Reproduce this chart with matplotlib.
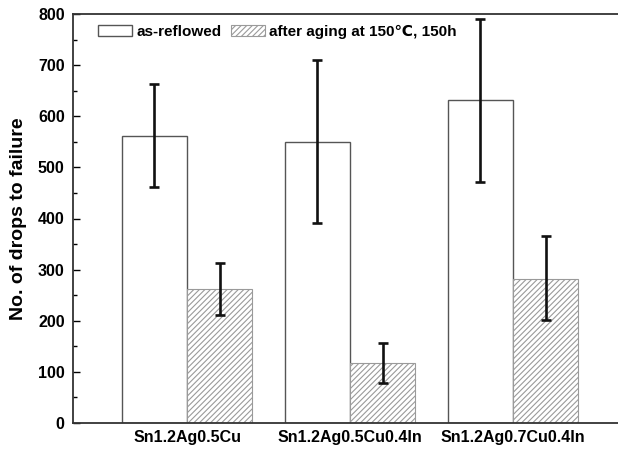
import matplotlib
matplotlib.use("Agg")
import matplotlib.pyplot as plt
import numpy as np
from matplotlib.ticker import MultipleLocator

plt.rcParams['font.family'] = ['Liberation Sans', 'DejaVu Sans']
plt.rcParams['font.weight'] = 'bold'
plt.rcParams['hatch.color'] = '#a0a0a0'
plt.rcParams['hatch.linewidth'] = 0.8

alloys = ["Sn1.2Ag0.5Cu", "Sn1.2Ag0.5Cu0.4In", "Sn1.2Ag0.7Cu0.4In"]
reflowed = [562, 550, 631]
reflowed_lo = [462, 391, 472]
reflowed_hi = [664, 711, 791]
aged = [262, 117, 282]
aged_lo = [212, 78, 201]
aged_hi = [313, 157, 366]

x = np.arange(len(alloys))
w = 0.4

fig = plt.figure(figsize=(6.18, 4.5), dpi=100)
ax = fig.add_axes([73/618, 1 - 423/450, 1 - 73/618, 409/450])

ax.bar(x - w/2, reflowed, w, color="white", edgecolor="#555555", linewidth=1.0,
       label="as-reflowed")
ax.bar(x + w/2, aged, w, color="white", edgecolor="#9a9a9a", linewidth=0.8,
       hatch="//////", label="after aging at 150\u2103, 150h")

ref_err = [np.array(reflowed) - np.array(reflowed_lo), np.array(reflowed_hi) - np.array(reflowed)]
ax.errorbar(x - w/2, reflowed, yerr=ref_err, fmt="none", ecolor="#111111",
            elinewidth=1.9, capsize=3.8, capthick=1.9)
aged_err = [np.array(aged) - np.array(aged_lo), np.array(aged_hi) - np.array(aged)]
ax.errorbar(x + w/2, aged, yerr=aged_err, fmt="none", ecolor="#111111",
            elinewidth=1.9, capsize=3.8, capthick=1.9)

ax.set_xlim(-0.70, 2.644)
ax.set_ylim(0, 800)
ax.set_xticks(x)
ax.set_xticklabels(alloys, fontsize=11.5, fontweight="bold")
ax.tick_params(axis="x", length=0, pad=5)
ax.yaxis.set_major_locator(MultipleLocator(100))
ax.yaxis.set_minor_locator(MultipleLocator(50))
ax.tick_params(axis="y", which="major", direction="in", length=5, width=1, labelsize=11.5, pad=6)
ax.tick_params(axis="y", which="minor", direction="in", length=3, width=1)
for lbl in ax.get_yticklabels():
    lbl.set_fontweight("bold")
ax.spines["right"].set_visible(False)
for s in ["left", "bottom", "top"]:
    ax.spines[s].set_linewidth(1.3)
    ax.spines[s].set_color("#333333")

ax.set_ylabel("No. of drops to failure", fontsize=14, fontweight="bold", labelpad=8)

leg = ax.legend(loc="upper left", bbox_to_anchor=(0.027, 1.0), ncol=2, frameon=False,
                fontsize=11, handlelength=2.2, handleheight=0.75, handletextpad=0.3,
                columnspacing=0.6, borderaxespad=0.3)
for t in leg.get_texts():
    t.set_fontweight("bold")

fig.savefig("out.png", dpi=100)
